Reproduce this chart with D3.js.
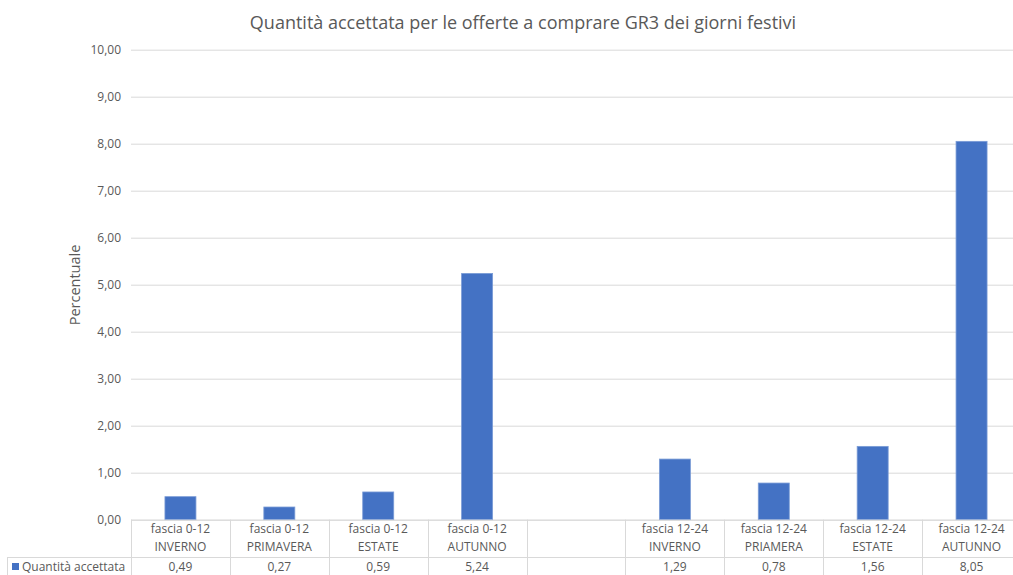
<!DOCTYPE html>
<html><head><meta charset="utf-8">
<script src="https://cdn.jsdelivr.net/npm/d3@7"></script>
<style>body{margin:0;background:#fff;}svg{display:block;font-family:"Open Sans",sans-serif;}</style>
</head><body>
<svg id="c" width="1013" height="575"></svg>
<script>
const titleText = "Quantità accettata per le offerte a comprare GR3 dei giorni festivi";
const yTitle = "Percentuale";
const seriesName = "Quantità accettata";
const catLine1 = ["fascia 0-12","fascia 0-12","fascia 0-12","fascia 0-12","","fascia 12-24","fascia 12-24","fascia 12-24","fascia 12-24"];
const catLine2 = ["INVERNO","PRIMAVERA","ESTATE","AUTUNNO","","INVERNO","PRIAMERA","ESTATE","AUTUNNO"];
const values = [0.49,0.27,0.59,5.24,null,1.29,0.78,1.56,8.05];
const yTicks = [0,1,2,3,4,5,6,7,8,9,10];

(function(){
const svg = d3.select("#c");
const pLeft = 131, pRight = 1021, pTop = 49.7, pBottom = 519.7;
const idx = d3.range(values.length);
const x = d3.scaleBand().domain(idx).range([pLeft, pRight]).paddingInner(0).paddingOuter(0);
const y = d3.scaleLinear().domain([0,10]).range([pBottom, pTop]);
const fmt = v => v.toFixed(2).replace(".", ",");
const grey = "#595959", lineC = "#d9d9d9";

const yAxis = d3.axisLeft(y).tickValues(yTicks).tickSize(-(pRight-pLeft)).tickFormat(fmt).tickPadding(10);
const ga = svg.append("g").attr("transform", `translate(${pLeft},0)`).call(yAxis);
ga.select(".domain").remove();
ga.selectAll(".tick line").attr("stroke", lineC).attr("stroke-width", 1);
ga.selectAll(".tick text").attr("fill", grey).style("font-size", "12px").style("font-family", "'Open Sans',sans-serif");

const bw = 31;
svg.append("g").selectAll("rect").data(idx.filter(i => values[i] != null)).join("rect")
  .attr("x", i => x(i) + x.bandwidth()/2 - bw/2)
  .attr("width", bw)
  .attr("y", i => y(values[i]))
  .attr("height", i => y(0) - y(values[i]))
  .attr("fill", "#4472C4")
  .attr("stroke", "#7a9bd6").attr("stroke-width", 0.8);

const rowH1 = pBottom, rowH2 = 557.5, rowEnd = 600;
const tbl = svg.append("g").attr("stroke", lineC).attr("stroke-width", 1).attr("fill", "none");
tbl.append("line").attr("x1", pLeft).attr("x2", pRight).attr("y1", rowH1+0.5).attr("y2", rowH1+0.5);
tbl.append("line").attr("x1", 7).attr("x2", pRight).attr("y1", rowH2).attr("y2", rowH2);
tbl.append("line").attr("x1", 7.5).attr("x2", 7.5).attr("y1", rowH2).attr("y2", rowEnd);
tbl.selectAll("line.v").data(d3.range(values.length+1)).join("line").attr("class","v")
  .attr("x1", i => Math.round(pLeft + i*x.step()) + 0.5).attr("x2", i => Math.round(pLeft + i*x.step()) + 0.5)
  .attr("y1", rowH1).attr("y2", rowEnd);

const tx = svg.append("g").attr("fill", grey).attr("text-anchor", "middle").style("font-size", "12px");
idx.forEach(i => {
  const cx = x(i) + x.bandwidth()/2;
  tx.append("text").attr("x", cx).attr("y", 533).text(catLine1[i]);
  tx.append("text").attr("x", cx).attr("y", 551).text(catLine2[i]);
  if (values[i] != null) tx.append("text").attr("x", cx).attr("y", 571).text(fmt(values[i]));
});
svg.append("rect").attr("x", 12).attr("y", 563).attr("width", 7).attr("height", 7).attr("fill", "#4472C4");
svg.append("text").attr("x", 22).attr("y", 571).attr("fill", grey).style("font-size", "12px").text(seriesName);

svg.append("text").attr("x", 523).attr("y", 29).attr("text-anchor", "middle").attr("fill", grey)
  .style("font-size", "18px").text(titleText);
svg.append("text").attr("transform", "translate(80,285) rotate(-90)").attr("text-anchor", "middle")
  .attr("fill", grey).style("font-size", "14.5px").text(yTitle);
})();
</script>
</body></html>
